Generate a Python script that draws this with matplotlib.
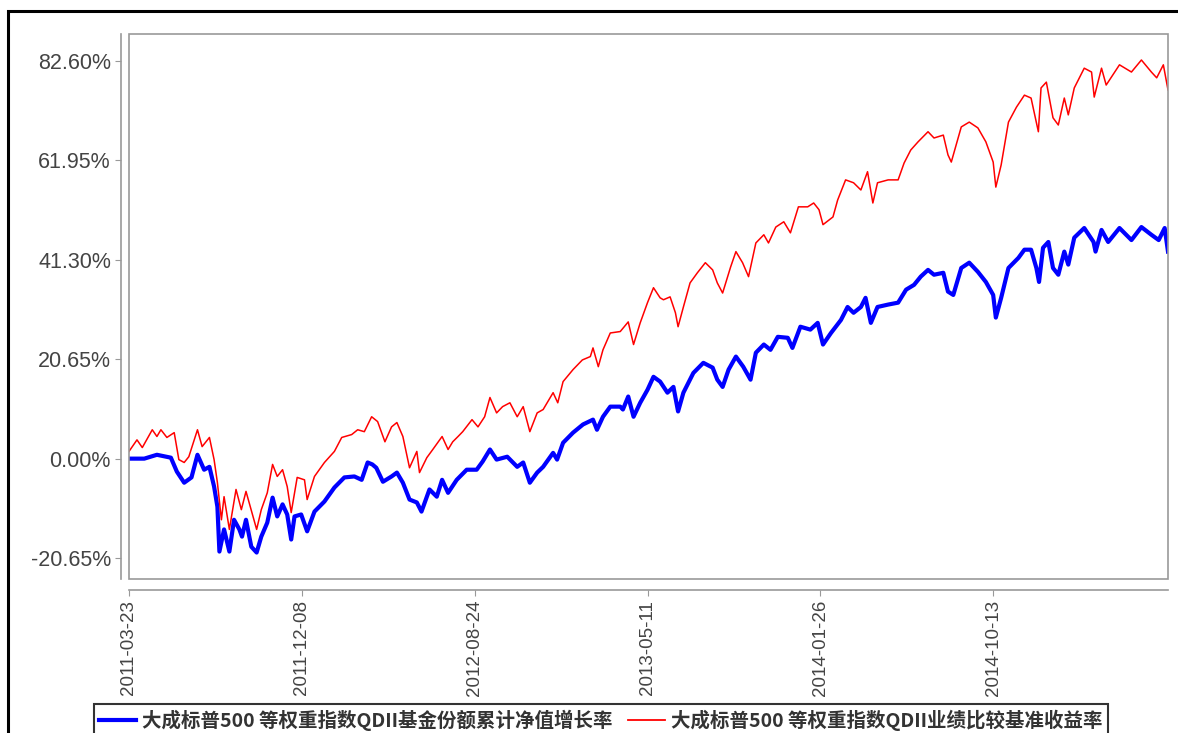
import pandas as pd
import matplotlib
matplotlib.use("Agg")
import matplotlib.pyplot as plt
import matplotlib.dates as mdates
from matplotlib.patches import Rectangle
from matplotlib.lines import Line2D

# start of the series, day offsets
start_date = "2011-03-23"

fund_days = [0, 23, 42, 63, 72, 83, 94, 103, 113, 121, 128, 133, 136, 143, 151, 158, 166, 170,
             176, 184, 192, 199, 208, 216, 223, 231, 238, 244, 249, 259, 268, 279, 294, 309,
             324, 339, 350, 359, 366, 372, 382, 395, 403, 412, 422, 433, 440, 452, 463, 471,
             480, 493, 508, 523, 532, 543, 553, 569, 584, 593, 603, 614, 623, 638, 644, 653,
             668, 683, 698, 704, 713, 724, 739, 743, 751, 759, 769, 780, 789, 799, 810, 819,
             826, 834, 849, 864, 878, 885, 893, 902, 913, 924, 935, 943, 955, 965, 976, 991,
             998, 1010, 1025, 1036, 1044, 1056, 1071, 1081, 1090, 1101, 1108, 1116, 1126,
             1142, 1157, 1169, 1181, 1191, 1202, 1211, 1225, 1232, 1240, 1252, 1264, 1277,
             1289, 1300, 1304, 1312, 1323, 1338, 1347, 1357, 1365, 1369, 1375, 1383, 1390,
             1398, 1407, 1413, 1422, 1437, 1451, 1454, 1463, 1473, 1490, 1508, 1523, 1538,
             1549, 1558, 1563]
fund_ret = [0.0, 0.0, 0.8, 0.2, -2.7, -5.0, -3.9, 0.8, -2.3, -1.7, -5.8, -10.0, -19.3, -14.7,
            -19.3, -12.7, -14.7, -16.2, -12.7, -18.3, -19.5, -16.2, -13.3, -8.1, -12.0, -9.5,
            -11.6, -16.8, -12.0, -11.6, -15.1, -11.0, -8.9, -6.0, -3.9, -3.7, -4.4, -0.8, -1.2,
            -1.9, -4.8, -3.7, -2.9, -5.0, -8.5, -9.1, -11.0, -6.4, -7.9, -4.4, -7.1, -4.4, -2.3,
            -2.3, -0.6, 1.9, -0.2, 0.4, -1.7, -0.8, -5.0, -2.9, -1.7, 1.2, -0.2, 3.3, 5.4, 7.1,
            8.1, 6.0, 8.7, 10.8, 10.8, 10.2, 12.9, 8.7, 11.6, 14.3, 17.0, 16.0, 13.7, 14.9, 9.8,
            13.7, 17.8, 19.9, 18.9, 16.4, 14.9, 18.5, 21.2, 19.1, 16.4, 22.0, 23.7, 22.6, 25.3,
            25.1, 23.0, 27.4, 26.8, 28.2, 23.7, 26.1, 28.8, 31.5, 30.3, 31.5, 33.4, 28.2, 31.5,
            32.0, 32.4, 35.1, 36.1, 37.8, 39.2, 38.2, 38.6, 34.7, 34.0, 39.6, 40.7, 38.8, 36.7,
            34.0, 29.3, 33.4, 39.6, 41.7, 43.4, 43.4, 39.6, 36.7, 43.8, 45.0, 39.6, 38.2, 43.0,
            40.3, 45.9, 47.9, 45.0, 43.0, 47.5, 45.0, 47.9, 45.4, 48.1, 46.5, 45.4, 47.9, 43.0]

bench_days = [0, 12, 20, 35, 42, 48, 57, 68, 75, 83, 90, 103, 110, 121, 128, 133, 139, 143,
              151, 161, 169, 176, 192, 199, 208, 216, 223, 231, 238, 244, 253, 264, 268, 279,
              294, 309, 320, 335, 344, 354, 365, 374, 385, 395, 403, 412, 422, 433, 437, 448,
              457, 471, 480, 487, 495, 502, 516, 525, 535, 543, 553, 562, 573, 584, 593, 603,
              614, 623, 638, 645, 653, 668, 682, 694, 698, 706, 713, 724, 739, 751, 759, 769,
              780, 789, 799, 804, 814, 822, 826, 834, 844, 855, 867, 878, 885, 893, 905, 913,
              923, 932, 943, 955, 962, 973, 985, 995, 1007, 1021, 1030, 1038, 1044, 1059, 1066,
              1078, 1090, 1101, 1111, 1119, 1126, 1142, 1157, 1166, 1176, 1187, 1202, 1211,
              1225, 1232, 1237, 1252, 1264, 1277, 1289, 1300, 1304, 1312, 1323, 1335, 1347,
              1357, 1368, 1372, 1380, 1390, 1398, 1407, 1413, 1422, 1437, 1448, 1452, 1463,
              1470, 1490, 1508, 1523, 1538, 1546, 1556, 1563]
bench_ret = [1.5, 3.9, 2.3, 6.0, 4.6, 6.0, 4.4, 5.4, -0.2, -0.8, 0.4, 6.0, 2.5, 4.4, -0.2, -5.0,
             -12.7, -7.9, -14.7, -6.4, -10.6, -6.8, -14.7, -10.6, -7.1, -1.2, -3.7, -2.3, -5.8,
             -11.2, -3.9, -4.4, -8.5, -3.7, -0.8, 1.5, 4.4, 5.0, 6.0, 5.6, 8.7, 7.7, 3.5, 6.6,
             7.5, 4.6, -1.9, 1.5, -2.9, 0.2, 1.9, 4.6, 1.9, 3.5, 4.6, 5.6, 8.1, 6.6, 8.7, 12.7,
             9.5, 10.8, 11.6, 8.7, 10.8, 5.6, 9.5, 10.2, 13.7, 11.6, 16.0, 18.5, 20.5, 21.2,
             23.0, 19.1, 22.6, 26.1, 26.4, 28.4, 23.7, 28.2, 32.4, 35.5, 33.4, 33.0, 33.6, 30.3,
             27.4, 31.5, 36.5, 38.6, 40.7, 39.2, 36.5, 34.4, 39.8, 43.0, 40.7, 37.8, 44.8, 46.5,
             44.8, 48.1, 49.2, 46.9, 52.3, 52.3, 53.1, 51.7, 48.6, 50.2, 53.7, 57.9, 57.3, 55.8,
             59.6, 53.1, 57.3, 57.9, 57.9, 61.4, 64.1, 65.8, 67.9, 66.6, 67.2, 63.1, 61.6, 68.9,
             69.9, 68.7, 65.8, 61.6, 56.4, 61.0, 69.9, 73.0, 75.5, 74.9, 67.9, 77.0, 78.2, 70.8,
             69.3, 74.9, 71.4, 77.0, 81.1, 80.3, 75.1, 81.1, 77.6, 81.8, 80.3, 82.8, 80.3, 79.1,
             81.8, 76.6]

y_ticks = [-20.65, 0.00, 20.65, 41.30, 61.95, 82.60]
tick_step_days = 260
fund_label = "大成标普500 等权重指数QDII基金份额累计净值增长率"
bench_label = "大成标普500 等权重指数QDII业绩比较基准收益率"

t0 = pd.Timestamp(start_date)
fund_dates = t0 + pd.to_timedelta(fund_days, unit="D")
bench_dates = t0 + pd.to_timedelta(bench_days, unit="D")
x_ticks = [t0 + pd.Timedelta(days=tick_step_days * i) for i in range(6)]

W, H = 1178, 733
fig = plt.figure(figsize=(W / 100, H / 100), dpi=100)
ax = fig.add_axes([129 / W, (H - 579) / H, (1168 - 129) / W, (579 - 34) / H])

ax.plot(fund_dates, fund_ret, color="#0000ff", lw=3.0, solid_joinstyle="round")
ax.plot(bench_dates, bench_ret, color="#ff0000", lw=1.1)

ax.set_xlim(fund_dates[0], fund_dates[-1])
ax.set_ylim(-25.0, 88.2)

# plot box in grey, axis lines pushed out like the original
ax.add_patch(Rectangle((0, 0), 1, 1, transform=ax.transAxes, fill=False,
                       ec="#999999", lw=1.2, zorder=5, clip_on=False))
for s in ["top", "right"]:
    ax.spines[s].set_visible(False)
ax.spines["left"].set_position(("outward", 6))
ax.spines["bottom"].set_position(("outward", 8))
for s in ["left", "bottom"]:
    ax.spines[s].set_color("#999999")
    ax.spines[s].set_linewidth(1.2)

ax.set_yticks(y_ticks)
ax.set_yticklabels([f"{v:.2f}%" for v in y_ticks])
ax.set_xticks(x_ticks)
ax.xaxis.set_major_formatter(mdates.DateFormatter("%Y-%m-%d"))
ax.tick_params(direction="out", length=4, color="#999999", labelcolor="#444444", pad=3)
ax.tick_params(axis="y", labelsize=15.5)
ax.tick_params(axis="x", labelsize=13.5)
for lab in ax.get_xticklabels():
    lab.set_rotation(90)
for lab in ax.get_xticklabels() + ax.get_yticklabels():
    lab.set_family(["Liberation Sans", "DejaVu Sans"])

# outer frame of the original image
fig.add_artist(Rectangle((8 / W, -0.2), 1.5, 1.2 - 11 / H, transform=fig.transFigure,
                         fill=False, ec="black", lw=2.2))

handles = [Line2D([], [], color="#0000ff", lw=3.0), Line2D([], [], color="#ff0000", lw=1.3)]
leg = fig.legend(handles, [fund_label, bench_label], loc="upper center",
                 bbox_to_anchor=(601 / W, 1 - 704 / H), ncol=2, frameon=True, fancybox=False,
                 handlelength=1.9, handletextpad=0.3, columnspacing=0.8, borderpad=0.3,
                 borderaxespad=0.0,
                 prop={"family": ["Noto Sans CJK SC", "DejaVu Sans"], "weight": "bold",
                       "size": 14})
leg.get_frame().set_edgecolor("black")
leg.get_frame().set_linewidth(1.5)
for t in leg.get_texts():
    t.set_color("#333333")

fig.savefig("out.png", dpi=100)
